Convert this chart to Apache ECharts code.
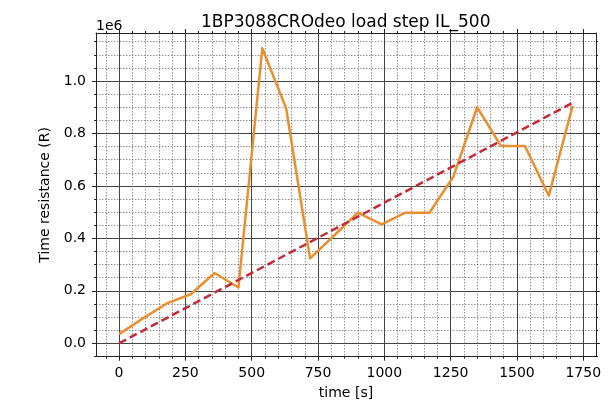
<!DOCTYPE html>
<html>
<head>
<meta charset="utf-8">
<script src="https://cdn.jsdelivr.net/npm/echarts@6/dist/echarts.min.js"></script>
<style>
html,body{margin:0;padding:0;background:#fff;}
#chart{width:614px;height:407px;}
</style>
</head>
<body>
<div id="chart"></div>
<script>
// ---- data ----
const timeS = [0, 90, 180, 270, 360, 450, 540, 630, 720, 810, 900, 990, 1080, 1170, 1260, 1350, 1440, 1530, 1620, 1710];
const resistance = [35000, 95000, 152000, 187000, 268000, 213000, 1125000, 895000, 324000, 410000, 498000, 453000, 498000, 498000, 635000, 900000, 752000, 752000, 563000, 905000];
const trendTime = [0, 1710];
const trendResistance = [0, 917000];
const xTickLabels = [0, 250, 500, 750, 1000, 1250, 1500, 1750];
const yTickLabels = [0, 200000, 400000, 600000, 800000, 1000000];
const titleText = '1BP3088CROdeo load step IL_500';
const xName = 'time [s]';
const yName = 'Time resistance (R)';
const offsetText = '1e6';

// ---- axis extents / minor tick positions ----
const xMin = -87, xMax = 1798;
const yMin = -51000, yMax = 1183000;
const xMinor = [];
for (let v = -50; v <= 1790; v += 50) if (v % 250 !== 0) xMinor.push(v);
const yMinor = [];
for (let v = -50000; v <= 1180000; v += 50000) if (v % 200000 !== 0) yMinor.push(v);

const FONT = 'DejaVu Sans';
const AX = '#222';
const seriesData = timeS.map((t, i) => [t, resistance[i]]);
const trendData = trendTime.map((t, i) => [t, trendResistance[i]]);

const minorSplit = {show: true, lineStyle: {color: '#666', width: 0.7, type: [1.5, 1.5]}};
const majorSplit = {show: true, lineStyle: {color: '#444', width: 1}};

function xAx(pos, major, opts) {
  return Object.assign({
    type: 'value', position: pos, min: xMin, max: xMax,
    axisLine: {show: major, onZero: false, lineStyle: {color: AX, width: 1}},
    axisTick: {show: true, inside: false, customValues: major ? xTickLabels : xMinor, length: major ? 4 : 2, lineStyle: {color: AX, width: 1}},
    axisLabel: {show: false},
    splitLine: {show: false}
  }, opts || {});
}
function yAx(pos, major, opts) {
  return Object.assign({
    type: 'value', position: pos, min: yMin, max: yMax,
    axisLine: {show: major, onZero: false, lineStyle: {color: AX, width: 1}},
    axisTick: {show: true, inside: false, customValues: major ? yTickLabels : yMinor, length: major ? 4 : 2, lineStyle: {color: AX, width: 1}},
    axisLabel: {show: false},
    splitLine: {show: false}
  }, opts || {});
}

const chart = echarts.init(document.getElementById('chart'), null, {renderer: 'canvas'});
chart.setOption({
  animation: false,
  backgroundColor: '#fff',
  textStyle: {fontFamily: FONT},
  title: {
    text: titleText, left: 196, top: 9,
    textStyle: {fontFamily: FONT, fontSize: 17, fontWeight: 'normal', color: '#000'}
  },
  grid: {left: 96, top: 33, right: 18, bottom: 50.3, containLabel: false},
  xAxis: [
    xAx('bottom', true, {
      axisLabel: {show: true, customValues: xTickLabels, margin: 10, fontSize: 14, color: '#000', fontFamily: FONT,
        formatter: v => String(v)},
      splitLine: majorSplit,
      name: xName, nameLocation: 'middle', nameGap: 30,
      nameTextStyle: {fontSize: 14, color: '#000', fontFamily: FONT}
    }),
    xAx('bottom', false, {splitLine: minorSplit}),
    xAx('top', true),
    xAx('top', false)
  ],
  yAxis: [
    yAx('left', true, {
      axisLabel: {show: true, customValues: yTickLabels, margin: 10, fontSize: 14, color: '#000', fontFamily: FONT,
        formatter: v => (v / 1e6).toFixed(1)},
      splitLine: majorSplit,
      name: yName, nameLocation: 'middle', nameGap: 36, nameRotate: 90,
      nameTextStyle: {fontSize: 14, color: '#000', fontFamily: FONT}
    }),
    yAx('left', false, {
      splitLine: minorSplit,
      name: offsetText, nameLocation: 'end', nameGap: 0,
      nameTextStyle: {fontSize: 14, color: '#000', fontFamily: FONT, align: 'left', verticalAlign: 'bottom'}
    }),
    yAx('right', true),
    yAx('right', false)
  ],
  series: [
    {
      type: 'line', xAxisIndex: 0, yAxisIndex: 0, data: seriesData,
      showSymbol: false, symbol: 'none',
      lineStyle: {color: '#e8902f', width: 2.5, join: 'round'},
      z: 3
    },
    {
      type: 'line', xAxisIndex: 0, yAxisIndex: 0, data: trendData,
      showSymbol: false, symbol: 'none',
      lineStyle: {color: '#c42a38', width: 2.5, type: [8, 4]},
      z: 4
    }
  ]
});
</script>
</body>
</html>
